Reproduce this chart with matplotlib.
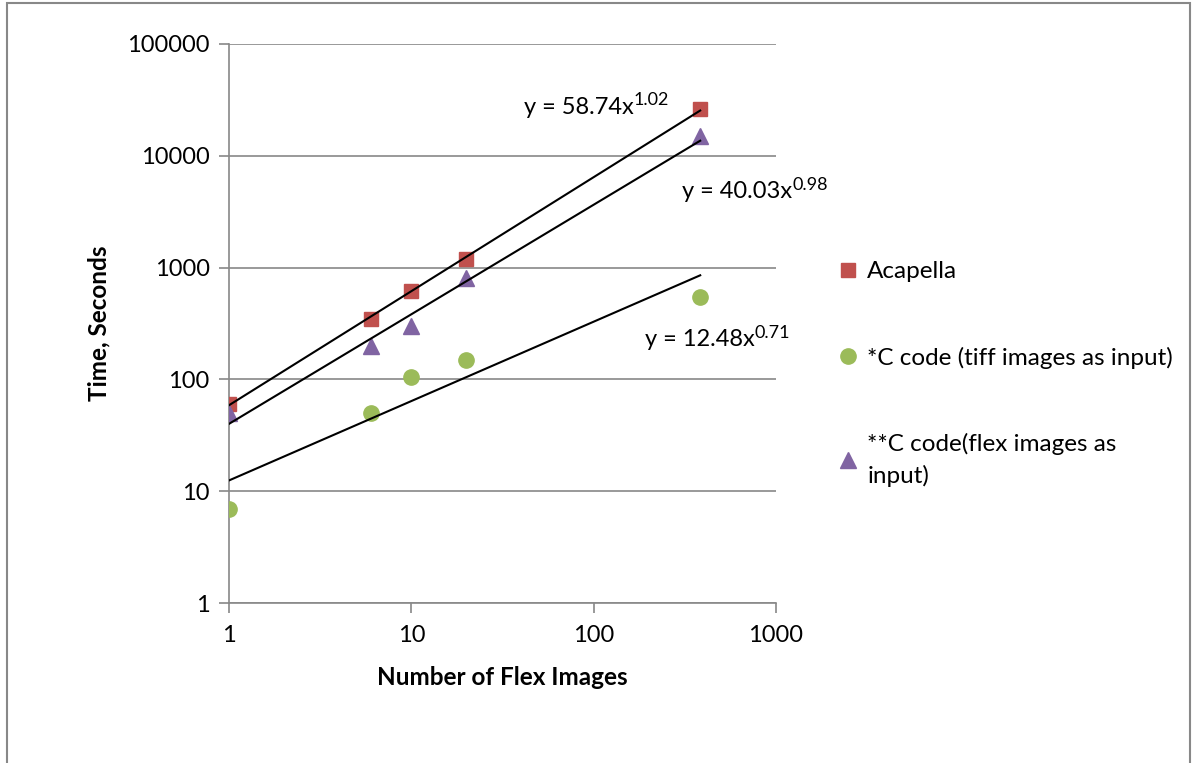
import matplotlib
matplotlib.use('Agg')
import matplotlib.pyplot as plt
from matplotlib.patches import Rectangle
import numpy as np

plt.rcParams['font.family'] = ['Lato', 'DejaVu Sans']

# data
n_images = [1, 6, 10, 20, 384]
acapella = [60, 350, 620, 1200, 26000]
c_tiff = [7, 50, 105, 150, 550]
c_flex = [50, 200, 300, 800, 15000]

# power-law trend lines y = a * x^b, as printed on the chart
fit_acapella = (58.74, 1.02)
fit_tiff = (12.48, 0.71)
fit_flex = (40.03, 0.98)

red = '#C0504D'
green = '#9BBB59'
purple = '#8064A2'
grid_gray = '#888888'

fig = plt.figure(figsize=(11.92, 7.63), dpi=100)
ax = fig.add_axes([229/1192, 1 - 603/763, (776 - 229)/1192, (603 - 44)/763])

ax.plot(n_images, acapella, 's', color=red, markersize=10, label='Acapella', zorder=4)
ax.plot(n_images, c_tiff, 'o', color=green, markersize=11,
        label='*C code (tiff images as input)', zorder=4)
ax.plot(n_images, c_flex, '^', color=purple, markersize=11,
        label='**C code(flex images as\ninput)', zorder=4)

# trend lines over the data range
for a, b in (fit_acapella, fit_flex, fit_tiff):
    xs = np.logspace(np.log10(n_images[0]), np.log10(n_images[-1]), 50)
    ax.plot(xs, a * xs ** b, color='black', linewidth=1.5, zorder=5)

ax.set_xscale('log')
ax.set_yscale('log')
ax.set_xlim(1, 1000)
ax.set_ylim(1, 100000)

xt = [1, 10, 100, 1000]
yt = [1, 10, 100, 1000, 10000, 100000]
ax.set_xticks(xt, [str(v) for v in xt])
ax.set_yticks(yt, [str(v) for v in yt])
ax.minorticks_off()
ax.tick_params(axis='both', which='major', labelsize=17, length=7, width=1.2,
               color=grid_gray, direction='out')
ax.tick_params(axis='x', pad=9)
ax.tick_params(axis='y', pad=7)

ax.grid(axis='y', color=grid_gray, linewidth=1.2)
ax.set_axisbelow(True)
for s in ('top', 'right'):
    ax.spines[s].set_visible(False)
for s in ('left', 'bottom'):
    ax.spines[s].set_color(grid_gray)
    ax.spines[s].set_linewidth(1.2)

ax.set_xlabel('Number of Flex Images', fontsize=17.5, fontweight='bold', labelpad=14)
ax.set_ylabel('Time, Seconds', fontsize=17.5, fontweight='bold', labelpad=12)


# trend line equations, exponent drawn as a smaller raised text
def equation(x_px, y_px, base, power):
    t = fig.text(x_px/1192, 1 - y_px/763, base, fontsize=17, va='center')
    ax.annotate(power, xy=(1, 1), xycoords=t, xytext=(0, 3), textcoords='offset points',
                fontsize=13, ha='left', va='top')


equation(524, 107, 'y = 58.74x', '1.02')
equation(682, 192, 'y = 40.03x', '0.98')
equation(645, 340, 'y = 12.48x', '0.71')

leg = fig.legend(loc='upper left', bbox_to_anchor=(838/1192, 1 - 261/763), frameon=False,
                 fontsize=17.5, handlelength=0.8, handletextpad=0.4, labelspacing=2.65,
                 borderpad=0, borderaxespad=0)
for t in leg.get_texts():
    t.set_linespacing(1.55)

# outer chart border
fig.patches.append(Rectangle((7/1192, 0 - 0.01), (1190 - 7)/1192, 1 - 3/763 + 0.01,
                             transform=fig.transFigure, fill=False,
                             edgecolor=grid_gray, linewidth=1.5, clip_on=False))

fig.savefig('out.png', dpi=100)
